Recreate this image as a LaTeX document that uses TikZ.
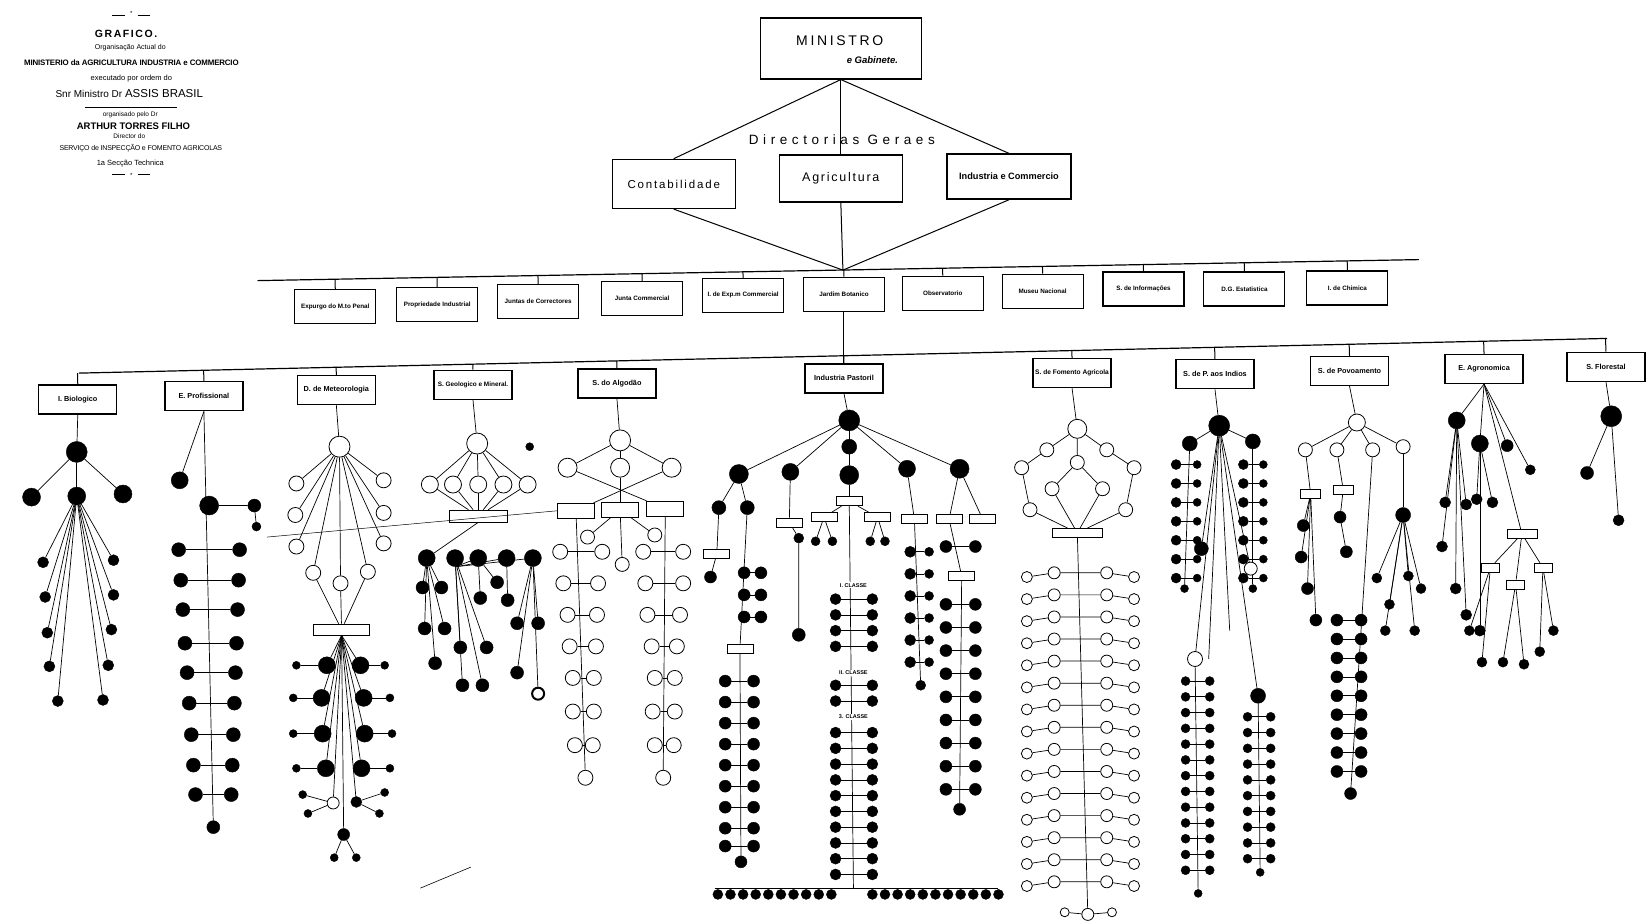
\documentclass[tikz,border=0pt]{standalone}
\usepackage{fontspec}
\setmainfont{Liberation Sans}
\usetikzlibrary{calc}
\newcommand{\fs}[1]{\fontsize{#1}{#1}\selectfont}
\tikzset{
  ln/.style={line width=0.7pt},
  ttl/.style={inner sep=0pt},
  box/.style={draw, line width=1.4pt, fill=white, inner sep=2pt},
  rbox/.style={draw, line width=1.1pt, fill=white, minimum width=81pt, minimum height=34pt, inner sep=1pt, font=\bfseries\fs{6.3}},
  dbox/.style={draw, line width=1.3pt, fill=white, minimum width=78pt, minimum height=29pt, inner sep=1pt, font=\bfseries\fs{7.3}},
  sbox/.style={draw, line width=0.7pt, fill=white, minimum width=#1, minimum height=9pt, inner sep=0pt},
  sbox/.default=26pt,
  fd/.style={circle, draw, fill=black, inner sep=0pt, minimum size=#1},
  fd/.default=12pt,
  od/.style={circle, draw, line width=0.8pt, fill=white, inner sep=0pt, minimum size=#1},
  od/.default=14pt,
}
\begin{document}
\begin{tikzpicture}[x=1.051pt,y=-1.051pt]
\useasboundingbox (0,0) rectangle (1568,879);

% titulo
\draw[line width=0.6pt] (107,15) -- (119,15);
\draw[line width=0.6pt] (131,15) -- (143,15);
\node[ttl] (tO1) at (125,13) {\fs{6}*};
\node[ttl] (t1) at (120,32) {\fs{10.5}\bfseries\addfontfeatures{LetterSpace=15}GRAFICO.};
\node[ttl] (t2) at (124,45) {\fs{7}Organisação Actual do};
\node[ttl] (t3) at (125,60) {\fs{7.9}\bfseries\addfontfeatures{LetterSpace=-2}MINISTERIO da AGRICULTURA INDUSTRIA e COMMERCIO};
\node[ttl] (t4) at (125,75) {\fs{7.5}executado por ordem do};
\node[ttl] (t5) at (123,89) {\fs{10}Snr Ministro Dr {\fs{11.5}ASSIS BRASIL}};
\draw[line width=0.8pt] (81,102) -- (168,102);
\node[ttl] (t6) at (124,109) {\fs{6.5}organisado pelo Dr};
\node[ttl] (t7) at (127,120) {\fs{9.5}\bfseries ARTHUR TORRES FILHO};
\node[ttl] (t8) at (123,130) {\fs{6.5}Director do};
\node[ttl] (t9) at (134,141) {\fs{7}\addfontfeatures{LetterSpace=-3}SERVIÇO de INSPECÇÃO e FOMENTO AGRICOLAS};
\node[ttl] (t10) at (124,156) {\fs{7.5}1a Secção Technica};
\draw[line width=0.6pt] (107,166) -- (119,166);
\draw[line width=0.6pt] (131,166) -- (143,166);
\node[ttl] (tO2) at (125,167) {\fs{6}*};

% topo
\node[box, minimum width=161pt, minimum height=61pt] (min) at (800,46) {};
\node[ttl] (minT) at (799,39) {\fs{14}\addfontfeatures{LetterSpace=19}MINISTRO};
\node[ttl] (minG) at (830,57) {\fs{9.5}\bfseries\itshape e Gabinete.};
\node[ttl] (dirG) at (801,133) {\fs{13.5}\addfontfeatures{LetterSpace=34}Directorias Geraes};
\node[box, minimum width=123pt, minimum height=49pt, font=\fs{11.5}\addfontfeatures{LetterSpace=16}] (cont) at (641,175) {Contabilidade};
\node[box, minimum width=123pt, minimum height=47pt, font=\fs{12.5}\addfontfeatures{LetterSpace=14}] (agri) at (800,170) {Agricultura};
\node[box, minimum width=124pt, minimum height=45pt, font=\bfseries\fs{9.2}] (indc) at (960,168) {Industria e Commercio};
\coordinate (hub) at (802,257);
\draw[line width=1pt] (min.south) -- (cont.north);
\draw[line width=1pt] (min.south) -- (agri.north);
\draw[line width=1pt] (min.south) -- (indc.north);
\draw[line width=1pt] (cont.south) -- (hub);
\draw[line width=1pt] (agri.south) -- (hub);
\draw[line width=1pt] (indc.south) -- (hub);

% segunda linha
\coordinate (r2L) at (245,267);
\coordinate (r2R) at (1350,247);
\draw[line width=1.2pt] (r2L) -- (r2R);
\foreach \n/\x/\y/\t in {a/319/292/{Expurgo do M.to Penal}, b/416/290/{Propriedade Industrial}, c/512/287/{Juntas de Correctores},
  d/611/284/{Junta Commercial}, e/707/281/{I. de Exp.m Commercial}, f/803/280/{Jardim Botanico}, g/897/279/{Observatorio},
  h/992/277/{Museu Nacional}, i/1088/275/{S. de Informações}, j/1184/275/{D.G. Estatistica}, k/1282/274/{I. de Chimica}} {
  \node[rbox] (s\n) at (\x,\y) {\t};
  \draw[line width=1pt] (s\n.north) -- ($(r2L)!(s\n.north)!(r2R)$);
}

% terceira linha
\coordinate (r3L) at (75,355);
\coordinate (r3R) at (1529,322);
\draw[line width=1.2pt] (r3L) -- (r3R);
\foreach \n/\x/\y/\t in {bio/74/380/{I. Biologico}, pro/194/377/{E. Profissional}, met/320/371/{D. de Meteorologia},
  geo/450/366/{\fs{6.4}S. Geologico e Mineral.}, alg/587/365/{S. do Algodão}, ip/803/360/{Industria Pastoril},
  fom/1020/355/{\fs{6.6}S. de Fomento Agricola}, ind/1156/356/{S. de P. aos Indios}, pov/1284/353/{S. de Povoamento},
  agr/1412/351/{E. Agronomica}, flo/1528/349/{S. Florestal}} {
  \node[dbox] (\n) at (\x,\y) {\t};
  \draw[line width=1pt] (\n.north) -- ($(r3L)!(\n.north)!(r3R)$);
}
\draw[line width=1pt] (sf.south) -- (ip.north);

% I. Biologico
\node[fd=21pt] (bioD) at (73,430) {};
\draw[ln] (bio.south) -- (bioD);
\foreach \n/\x/\y in {A/30/473, B/73/472, C/117/470} {
  \node[fd=18pt] (bio\n) at (\x,\y) {};
  \draw[ln] (bioD) -- (bio\n);
}
\foreach \x/\y [count=\i] in {41/535, 43/568, 45/602, 47/634, 55/667, 108/533, 108/566, 106/599, 103/633, 98/666} {
  \node[fd=11pt] (bioL\i) at (\x,\y) {};
  \draw[ln] (bioB) -- (bioL\i);
}

% E. Profissional
\node[fd=13pt] (proE) at (203,787) {};
\draw[ln] (pro.south) -- (proE);
\node[fd=17pt] (proA) at (171,457) {};
\draw[ln] (pro.south) -- (proA);
\node[fd=19pt] (proB) at (199,481) {};
\node[fd=13pt] (proC) at (242,481) {};
\node[fd=9pt] (proF) at (244,501) {};
\draw[ln] (proB) -- (proC) -- (proF);
\foreach \y/\l/\r [count=\i] in {523/170/228, 552/172/227, 580/174/226, 612/176/225, 640/178/224, 669/180/223, 699/182/222, 728/184/221, 756/186/220} {
  \node[fd=14pt] (proL\i) at (\l,\y) {};
  \node[fd=14pt] (proR\i) at (\r,\y) {};
  \draw[ln] (proL\i) -- (proR\i);
}

% D. de Meteorologia
\node[od=21pt] (metD) at (323,425) {};
\draw[ln] (met.south) -- (metD);
\foreach \n/\x/\y in {L1/282/460, L2/281/490, L3/282/520, L4/298/545, C/324/555, R4/350/544, R3/365/517, R2/365/488, R1/365/457} {
  \node[od=15pt] (met\n) at (\x,\y) {};
  \draw[ln] (metD) -- (met\n);
}
\node[sbox=56pt, minimum height=11pt] (metP) at (325,599) {};
\foreach \n in {L4,C,R4} \draw[ln] (met\n) -- (metP);
\foreach \y/\a/\b/\c/\d [count=\i] in {633/282/311/343/366, 664/279/306/346/371, 698/279/307/347/373, 731/282/310/344/371} {
  \node[fd=17pt] (metBL\i) at (\b,\y) {};
  \node[fd=8pt] (metSL\i) at (\a,\y) {};
  \node[fd=17pt] (metBR\i) at (\c,\y) {};
  \node[fd=8pt] (metSR\i) at (\d,\y) {};
  \draw[ln] (metSL\i) -- (metBL\i);
  \draw[ln] (metSR\i) -- (metBR\i);
  \draw[ln] (metP.south) -- (metBL\i);
  \draw[ln] (metP.south) -- (metBR\i);
}
\node[od=12pt] (metHL) at (317,764) {};
\node[fd=11pt] (metHR) at (339,763) {};
\node[fd=12pt] (metZ) at (327,794) {};
\foreach \n in {HL,HR,Z} \draw[ln] (metP.south) -- (met\n);
\foreach \n/\x/\y/\h in {a/288/756/HL, b/293/774/HL, c/366/754/HR, d/361/774/HR, e/318/816/Z, f/339/816/Z} {
  \node[fd=8pt] (metT\n) at (\x,\y) {};
  \draw[ln] (met\h) -- (metT\n);
}

% S. Geologico e Mineral.
\node[od=21pt] (geoD) at (454,422) {};
\draw[ln] (geo.south) -- (geoD);
\node[fd=8pt] (geoX) at (504,425) {};
\node[sbox=58pt, minimum height=12pt] (geoB) at (455,491) {};
\foreach \x [count=\i] in {409,431,455,479,502} {
  \node[od=17pt] (geoO\i) at (\x,461) {};
  \draw[ln] (geoD) -- (geoO\i);
  \draw[ln] (geoO\i) -- (geoB);
}
\foreach \n/\x in {A/406, B/433, C/455, D/482, E/507} {
  \node[fd=17pt] (geo\n) at (\x,531) {};
  \draw[ln] (geoB.south) -- (geo\n);
}
\foreach \n/\x/\y [count=\i] in {A/402/559, A/420/559, A/404/598, A/423/598, A/414/631, B/438/616, B/463/616, B/440/652, B/459/652,
  C/473/554, C/457/569, D/483/571, E/492/593, E/512/593, E/492/640} {
  \node[fd=13pt] (geoL\i) at (\x,\y) {};
  \draw[ln] (geo\n) -- (geoL\i);
}
\node[od=12pt, line width=2pt] (geoR) at (512,660) {};
\draw[ln] (geoE) -- (geoR);

% S. do Algodao
\node[od=21pt] (algD) at (590,419) {};
\draw[ln] (alg.south) -- (algD);
\foreach \n/\x in {A/540, B/590, C/639} {
  \node[od=19pt] (alg\n) at (\x,445) {};
  \draw[ln] (algD) -- (alg\n);
}
\node[sbox=37pt, minimum height=15pt] (algX) at (548,486) {};
\node[sbox=37pt, minimum height=15pt] (algY) at (590,485) {};
\node[sbox=37pt, minimum height=15pt] (algZ) at (633,484) {};
\draw[ln] (algA) -- (algZ);
\draw[ln] (algC) -- (algX);
\draw[ln] (algB) -- (algY);
\node[od=14pt] (algY1) at (559,511) {};
\node[od=14pt] (algY2) at (623,509) {};
\node[od=14pt] (algY3) at (592,537) {};
\foreach \i in {1,2,3} \draw[ln] (algY) -- (algY\i);
\node[od=15pt] (algXE) at (557,740) {};
\node[od=15pt] (algZE) at (631,740) {};
\draw[ln] (algX) -- (algXE);
\draw[ln] (algZ) -- (algZE);
\foreach \y/\a/\b/\c/\d [count=\i] in {525/533/573/612/650, 555/536/569/614/650, 585/540/568/616/647, 615/542/567/620/644,
  645/545/565/623/642, 677/545/565/621/642, 709/547/564/623/641} {
  \node[od=15pt] (algXL\i) at (\a,\y) {};
  \node[od=15pt] (algXR\i) at (\b,\y) {};
  \node[od=15pt] (algZL\i) at (\c,\y) {};
  \node[od=15pt] (algZR\i) at (\d,\y) {};
  \draw[ln] (algXL\i) -- (algXR\i);
  \draw[ln] (algZL\i) -- (algZR\i);
}
\draw[line width=0.5pt] (254,511) -- (algX.west);

% Industria Pastoril
\node[fd=21pt] (ipD) at (808,400) {};
\draw[ln] (ip.south) -- (ipD);
\node[fd=15pt] (ipM) at (808,425) {};
\foreach \n/\x/\y/\s in {A/703/451/19pt, B/752/449/17pt, C/808/452/19pt, E/863/446/17pt, F/913/446/19pt}
  \node[fd=\s] (ip\n) at (\x,\y) {};
\foreach \n in {A,B,E,F} \draw[ln] (ipD) -- (ip\n);
\draw[ln] (ipD) -- (ipM) -- (ipC);
\node[fd=14pt] (ipA1) at (684,483) {};
\node[fd=14pt] (ipA2) at (711,483) {};
\draw[ln] (ipA) -- (ipA1);
\draw[ln] (ipA) -- (ipA2);
\node[sbox] (ipA3) at (682,527) {};
\node[fd=12pt] (ipA4) at (676,549) {};
\draw[ln] (ipA1) -- (ipA3) -- (ipA4);
\node[sbox] (ipA5) at (704,617) {};
\node[fd=12pt] (ipA6) at (705,820) {};
\draw[ln] (ipA2) -- (ipA5) -- (ipA6);
\foreach \y [count=\i] in {545,566,587} {
  \node[fd=12pt] (ipAa\i) at (708,\y) {};
  \node[fd=12pt] (ipAb\i) at (724,\y) {};
  \draw[ln] (ipAa\i) -- (ipAb\i);
}
\foreach \y [count=\i] in {648,668,688,708,728,748,768,788,805} {
  \node[fd=12pt] (ipAc\i) at (690,\y) {};
  \node[fd=12pt] (ipAd\i) at (717,\y) {};
  \draw[ln] (ipAc\i) -- (ipAd\i);
}
\node[sbox] (ipB1) at (751,497) {};
\node[fd=10pt] (ipB2) at (760,512) {};
\node[fd=13pt] (ipB3) at (760,604) {};
\draw[ln] (ipB) -- (ipB1) -- (ipB2) -- (ipB3);
\node[sbox] (ipC1) at (808,477) {};
\node[sbox] (ipC2) at (784,492) {};
\node[sbox] (ipC3) at (835,492) {};
\draw[ln] (ipC) -- (ipC1);
\draw[ln] (ipC1) -- (ipC2);
\draw[ln] (ipC1) -- (ipC3);
\foreach \n/\x/\p in {a/776/2, b/792/2, c/828/3, d/842/3} {
  \node[fd=9pt] (ipC\n) at (\x,515) {};
  \draw[ln] (ipC\p) -- (ipC\n);
}
\coordinate (ipBar) at (812,845);
\draw[ln] (ipC1) -- (ipBar);
\node[ttl, fill=white, inner sep=1pt] (ipK1) at (812,557) {\fs{5.5}\bfseries I. CLASSE};
\node[ttl, fill=white, inner sep=1pt] (ipK2) at (812,640) {\fs{5.5}\bfseries II. CLASSE};
\node[ttl, fill=white, inner sep=1pt] (ipK3) at (812,682) {\fs{5.5}\bfseries 3. CLASSE};
\foreach \y [count=\i] in {570,585,600,615,652,667,697,712,727,742,757,772,787,802,817,832} {
  \node[fd=11pt] (ipCl\i) at (795,\y) {};
  \node[fd=11pt] (ipCr\i) at (830,\y) {};
  \draw[ln] (ipCl\i) -- (ipCr\i);
}
\draw[ln] (680,845) -- (950,845);
\foreach \x [count=\i] in {683,695,707,719,731,743,755,767,779,791,830,842,854,866,878,890,902,914,926,938,950} {
  \node[fd=10pt] (ipR\i) at (\x,851) {};
}
\node[sbox] (ipE1) at (870,494) {};
\node[fd=10pt] (ipE2) at (876,652) {};
\draw[ln] (ipE) -- (ipE1) -- (ipE2);
\foreach \y [count=\i] in {525,546,567,588,609,630} {
  \node[fd=11pt] (ipEa\i) at (866,\y) {};
  \node[fd=9pt] (ipEb\i) at (884,\y) {};
  \draw[ln] (ipEa\i) -- (ipEb\i);
}
\node[sbox] (ipF1) at (903,494) {};
\node[sbox] (ipF2) at (935,494) {};
\draw[ln] (ipF) -- (ipF1);
\draw[ln] (ipF) -- (ipF2);
\node[sbox] (ipF3) at (915,548) {};
\node[fd=12pt] (ipF4) at (913,770) {};
\draw[ln] (ipF1) -- (ipF3) -- (ipF4);
\foreach \y [count=\i] in {520,575,597,619,641,663,685,707,729,751} {
  \node[fd=12pt] (ipFa\i) at (900,\y) {};
  \node[fd=12pt] (ipFb\i) at (928,\y) {};
  \draw[ln] (ipFa\i) -- (ipFb\i);
}

% S. de Fomento Agricola
\node[od=19pt] (fomD) at (1025,408) {};
\draw[ln] (fom.south) -- (fomD);
\foreach \n/\x/\y in {a/996/428, b/1053/428, c/1025/440, d/972/445, e/1079/445, f/1001/465, g/1049/465, h/980/485, i/1071/485}
  \node[od=14pt] (fom\n) at (\x,\y) {};
\node[sbox=50pt] (fomB) at (1025,507) {};
\draw[ln] (fomD) -- (foma) -- (fomd) -- (fomh) -- (fomB);
\draw[ln] (fomD) -- (fomb) -- (fome) -- (fomi) -- (fomB);
\draw[ln] (fomD) -- (fomc) -- (fomf) -- (fomB);
\draw[ln] (fomc) -- (fomg) -- (fomB);
\node[od=12pt] (fomZ) at (1035,870) {};
\node[od=9pt] (fomZ1) at (1013,868) {};
\node[od=9pt] (fomZ2) at (1058,868) {};
\draw[ln] (fomB) -- (fomZ);
\draw[ln] (fomZ1) -- (fomZ) -- (fomZ2);
\foreach \y [count=\i] in {545,566,587,608,629,650,671,692,713,734,755,776,797,818,839} {
  \node[od=12pt] (fomLi\i) at (1003,\y) {};
  \node[od=11pt] (fomLo\i) at (977,{\y+4}) {};
  \node[od=12pt] (fomRi\i) at (1053,\y) {};
  \node[od=11pt] (fomRo\i) at (1079,{\y+4}) {};
  \draw[ln] (fomLo\i) -- (fomLi\i) -- (fomRi\i) -- (fomRo\i);
}

% S. de P. aos Indios
\node[fd=21pt] (indD) at (1160,405) {};
\draw[ln] (ind.south) -- (indD);
\node[fd=15pt] (indA) at (1132,422) {};
\node[fd=15pt] (indB) at (1192,420) {};
\draw[ln] (indD) -- (indA);
\draw[ln] (indD) -- (indB);
\node[fd=8pt] (indAE) at (1127,560) {};
\node[fd=8pt] (indBE) at (1192,560) {};
\draw[ln] (indA) -- (indAE);
\draw[ln] (indB) -- (indBE);
\foreach \y [count=\i] in {442,460,478,496,514,532,550} {
  \node[fd=10pt] (indAa\i) at (1119,\y) {};
  \node[fd=8pt] (indAb\i) at (1139,\y) {};
  \draw[ln] (indAa\i) -- (indAb\i);
  \node[fd=10pt] (indBa\i) at (1183,\y) {};
  \node[fd=8pt] (indBb\i) at (1202,\y) {};
  \draw[ln] (indBa\i) -- (indBb\i);
}
\node[fd=14pt] (indC) at (1143,522) {};
\node[od=13pt] (indO) at (1190,541) {};
\draw[ln] (indD) -- (indC);
\draw[ln] (indD) -- (indO);
\node[od=15pt] (indG) at (1137,627) {};
\node[fd=15pt] (indH) at (1197,662) {};
\draw[ln] (indD) -- (indG);
\draw[ln] (indD) -- (indH);
\coordinate (indU) at (1150,627);
\coordinate (indV) at (1170,600);
\draw[ln] (indD) -- (indU);
\draw[ln] (indD) -- (indV);
\node[fd=8pt] (indGE) at (1140,850) {};
\node[fd=8pt] (indHE) at (1199,830) {};
\draw[ln] (indG) -- (indGE);
\draw[ln] (indH) -- (indHE);
\foreach \y [count=\i] in {648,663,678,693,708,723,738,753,768,783,798,813,828} {
  \node[fd=9pt] (indGa\i) at (1128,\y) {};
  \node[fd=9pt] (indGb\i) at (1151,\y) {};
  \draw[ln] (indGa\i) -- (indGb\i);
}
\foreach \y [count=\i] in {682,697,712,727,742,757,772,787,802,817} {
  \node[fd=9pt] (indHa\i) at (1187,\y) {};
  \node[fd=9pt] (indHb\i) at (1209,\y) {};
  \draw[ln] (indHa\i) -- (indHb\i);
}

% S. de Povoamento
\node[od=17pt] (povD) at (1291,402) {};
\draw[ln] (pov.south) -- (povD);
\foreach \n/\x/\y in {a/1242/428, b/1272/428, c/1306/428, d/1335/425} {
  \node[od=14pt] (pov\n) at (\x,\y) {};
  \draw[ln] (povD) -- (pov\n);
}
\node[sbox=20pt] (pova1) at (1247,470) {};
\draw[ln] (pova) -- (pova1);
\foreach \x/\y [count=\i] in {1240/500, 1238/530, 1244/560, 1252/590} {
  \node[fd=12pt] (pova\i x) at (\x,\y) {};
  \draw[ln] (pova1) -- (pova\i x);
}
\node[sbox=20pt] (povb1) at (1278,466) {};
\node[fd=12pt] (povb2) at (1275,492) {};
\node[fd=12pt] (povb3) at (1281,525) {};
\draw[ln] (povb) -- (povb1) -- (povb2) -- (povb3);
\node[fd=12pt] (povcE) at (1285,755) {};
\draw[ln] (povc) -- (povcE);
\foreach \y [count=\i] in {590,608,626,644,662,680,698,716,734} {
  \node[fd=12pt] (povcL\i) at (1272,\y) {};
  \node[fd=12pt] (povcR\i) at (1295,\y) {};
  \draw[ln] (povcL\i) -- (povcR\i);
}
\node[fd=15pt] (povd1) at (1335,490) {};
\draw[ln] (povd) -- (povd1);
\foreach \x/\y [count=\i] in {1310/550, 1322/575, 1340/548, 1352/560, 1318/600, 1346/600} {
  \node[fd=10pt] (povdL\i) at (\x,\y) {};
  \draw[ln] (povd1) -- (povdL\i);
}

% E. Agronomica
\foreach \n/\x/\y/\s in {a/1386/400/17pt, b/1408/422/17pt, c/1434/424/12pt, d/1456/447/10pt} {
  \node[fd=\s] (agr\n) at (\x,\y) {};
  \draw[ln] (agr.south) -- (agr\n);
}
\node[sbox=30pt] (agrB) at (1448,508) {};
\draw[ln] (agr.south) -- (agrB);
\foreach \p/\x/\y [count=\i] in {a/1375/478, a/1395/480, a/1372/520, a/1385/560, a/1395/585, b/1405/475, b/1420/478, b/1408/600} {
  \node[fd=11pt] (agrL\i) at (\x,\y) {};
  \draw[ln] (agr\p) -- (agrL\i);
}
\foreach \x/\y [count=\i] in {1418/540, 1442/556, 1468/540} {
  \node[sbox=18pt] (agrS\i) at (\x,\y) {};
  \draw[ln] (agrB) -- (agrS\i);
}
\foreach \p/\x/\y [count=\i] in {1/1410/630, 1/1398/600, 2/1430/630, 2/1450/632, 3/1465/620, 3/1478/600} {
  \node[fd=10pt] (agrM\i) at (\x,\y) {};
  \draw[ln] (agrS\p) -- (agrM\i);
}

% S. Florestal
\node[fd=21pt] (floD) at (1533,396) {};
\draw[ln] (flo.south) -- (floD);
\node[fd=13pt] (floA) at (1510,450) {};
\node[fd=11pt] (floB) at (1540,495) {};
\draw[ln] (floD) -- (floA);
\draw[ln] (floD) -- (floB);

% traco solto
\draw[line width=0.6pt] (400,845) -- (448,825);
\end{tikzpicture}
\end{document}
